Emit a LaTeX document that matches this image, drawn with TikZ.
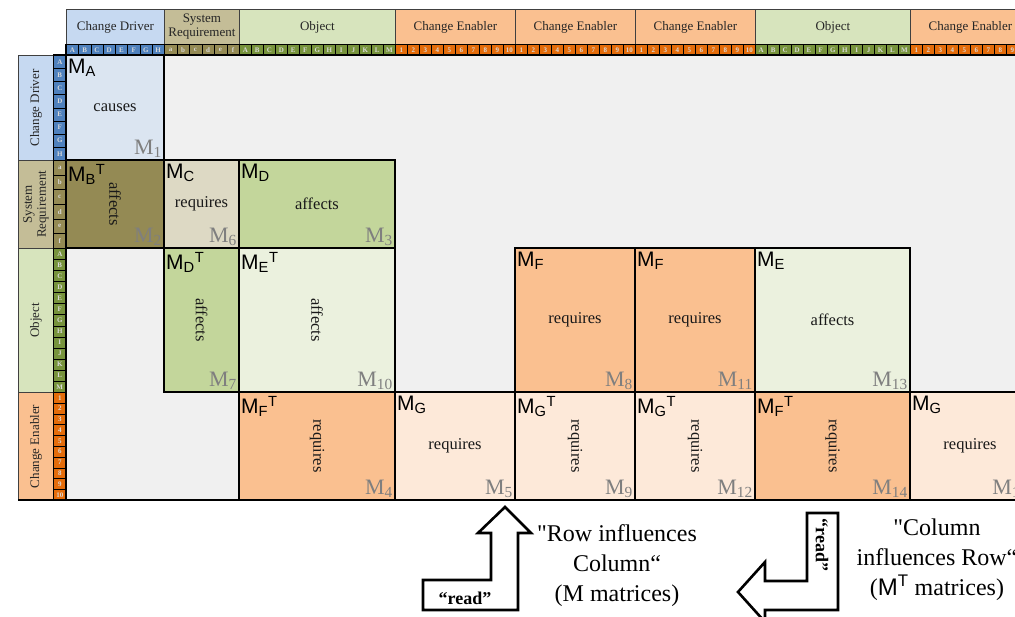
\documentclass[tikz,border=0pt]{standalone}
\usepackage{fontspec}
\setmainfont{Liberation Serif}
\setsansfont{Liberation Sans}
\newfontfamily\plainserif{Liberation Serif}

% domain colours
\definecolor{headcd}{HTML}{C6D9F1}
\definecolor{darkcd}{HTML}{4F81BD}
\definecolor{cellcd}{HTML}{DBE5F1}
\definecolor{headsr}{HTML}{C4BD97}
\definecolor{darksr}{HTML}{948A54}
\definecolor{cellsr}{HTML}{DDD9C4}
\definecolor{headob}{HTML}{D7E4BD}
\definecolor{darkob}{HTML}{77933C}
\definecolor{midob}{HTML}{C3D69B}
\definecolor{cellob}{HTML}{EBF1DE}
\definecolor{headce}{HTML}{FAC090}
\definecolor{darkce}{HTML}{E46C0A}
\definecolor{cellce}{HTML}{FDE9D9}
\definecolor{matbg}{HTML}{F0F0F0}
\definecolor{numgrey}{HTML}{7F7F7F}
\definecolor{headline}{HTML}{404040}

\newcommand{\Msub}[1]{M\textsubscript{#1}}
\newcommand{\Mtr}[1]{M\textsubscript{#1}\textsuperscript{T}}
\newcommand{\upidx}[1]{\char\numexpr64+#1\relax}
\newcommand{\lowidx}[1]{\char\numexpr96+#1\relax}
\newcommand{\numidx}[1]{#1}

\tikzset{
  cell/.style={draw=black, line width=1.4pt, inner sep=0pt, outer sep=0pt, anchor=north west},
  mname/.style={font=\sffamily\fontsize{21}{23}\selectfont, inner sep=2pt, anchor=north west},
  mverb/.style={font=\fontsize{16.5}{18}\selectfont, text=black!90},
  mnum/.style={font=\fontsize{22}{24}\selectfont, text=numgrey, inner sep=2pt, anchor=south east},
  headbox/.style={draw=headline, line width=0.8pt, inner sep=0pt, anchor=north west,
    align=center, text=black!85, font=\fontsize{13}{14}\selectfont},
  idx/.style={draw=black, line width=0.6pt, inner sep=0pt, anchor=north west,
    text=white!85!black, font=\bfseries\fontsize{7}{7}\selectfont},
  readarrow/.style={draw=black, fill=white, line width=2.6pt, line join=miter},
  readtext/.style={font=\bfseries\fontsize{18}{18}\selectfont},
  note/.style={font=\fontsize{24}{30}\selectfont, align=center}
}

\begin{document}
\begin{tikzpicture}[x=1pt,y=-1pt]
  \useasboundingbox (0,0) rectangle (1015,616);

  % Matrix background
  \fill[matbg] (66,55) rectangle (1015,500);

  % Filled sub-matrices
  \foreach \nm/\xa/\ya/\xb/\yb/\col/\lab/\txt/\rot/\num in {
      m1/66/55/164/160/cellcd/\Msub{A}/causes/0/1,
      m2/66/160/164/248/darksr/\Mtr{B}/affects/-90/2,
      m6/164/160/239/248/cellsr/\Msub{C}/requires/0/6,
      m3/239/160/395/248/midob/\Msub{D}/affects/0/3,
      m7/164/248/239/392/midob/\Mtr{D}/affects/-90/7,
      m10/239/248/395/392/cellob/\Mtr{E}/affects/-90/10,
      m8/515/248/635/392/headce/\Msub{F}/requires/0/8,
      m11/635/248/755/392/headce/\Msub{F}/requires/0/11,
      m13/755/248/910/392/cellob/\Msub{E}/affects/0/13,
      m4/239/392/395/500/headce/\Mtr{F}/requires/-90/4,
      m5/395/392/515/500/cellce/\Msub{G}/requires/0/5,
      m9/515/392/635/500/cellce/\Mtr{G}/requires/-90/9,
      m12/635/392/755/500/cellce/\Mtr{G}/requires/-90/12,
      m14/755/392/910/500/headce/\Mtr{F}/requires/-90/14,
      m15/910/392/1030/500/cellce/\Msub{G}/requires/0/15}{
    \node[cell, fill=\col, minimum width=\xb-\xa, minimum height=\yb-\ya] (\nm) at (\xa,\ya) {};
    \node[mname] (\nm-name) at ([yshift=-2pt]\nm.north west) {\lab};
    \node[mverb, rotate=\rot] (\nm-verb) at (\nm.center) {\txt};
    \node[mnum] (\nm-num) at (\nm.south east) {\Msub{\num}};
  }

  % Column headers with index strip
  \foreach \xa/\xb/\n/\kind/\fmt/\ttl [count=\g] in {
      66/164/8/cd/\upidx/Change Driver,
      164/239/6/sr/\lowidx/{System\\Requirement},
      239/395/13/ob/\upidx/Object,
      395/515/10/ce/\numidx/Change Enabler,
      515/635/10/ce/\numidx/Change Enabler,
      635/755/10/ce/\numidx/Change Enabler,
      755/910/13/ob/\upidx/Object,
      910/1030/10/ce/\numidx/Change Enabler}{
    \node[headbox, fill=head\kind, minimum width=\xb-\xa, minimum height=35] (top\g) at (\xa,9) {\ttl};
    \foreach \i in {1,...,\n}
      \node[idx, fill=dark\kind, minimum width=(\xb-\xa)/\n, minimum height=11]
        (top\g-\i) at ({\xa+(\i-1)*(\xb-\xa)/\n},44) {\fmt{\i}};
  }

  % Row headers with index strip
  \foreach \ya/\yb/\n/\kind/\fmt/\ttl [count=\g] in {
      55/160/8/cd/\upidx/Change Driver,
      160/248/6/sr/\lowidx/{System\\Requirement},
      248/392/13/ob/\upidx/Object,
      392/500/10/ce/\numidx/Change Enabler}{
    \node[headbox, fill=head\kind, minimum width=35, minimum height=\yb-\ya] (side\g) at (18,\ya) {};
    \node[rotate=90, align=center, text=black!85, font=\fontsize{13}{14}\selectfont] (side\g-text) at (side\g.center) {\ttl};
    \foreach \i in {1,...,\n}
      \node[idx, fill=dark\kind, minimum width=13, minimum height=(\yb-\ya)/\n]
        (side\g-\i) at (53,{\ya+(\i-1)*(\yb-\ya)/\n}) {\fmt{\i}};
  }

  % Frame lines
  \draw[line width=1.6pt] (53,55) -- (1015,55);
  \draw[line width=1.6pt] (66,44) -- (66,500);
  \draw[line width=1.6pt] (18,500) -- (1015,500);

  % Reading direction, M matrices
  \draw[readarrow] (423,580) -- (491,580) -- (491,533) -- (478,533) -- (505,507)
    -- (531,533) -- (518,533) -- (518,610) -- (423,610) -- cycle;
  \node[readtext] (readrow) at (465,598) {“read”};
  \node[note] (rownote) at (617,566) {{\plainserif"}Row influences\\Column“\\(M matrices)};

  % Reading direction, transposed matrices
  \draw[readarrow] (807,513) -- (838,513) -- (838,610) -- (765,610) -- (765,622)
    -- (738,592) -- (765,562) -- (765,581) -- (807,581) -- cycle;
  \node[readtext, rotate=-90] (readcol) at (822,545) {“read”};
  \node[note] (colnote) at (937,560) {{\plainserif"}Column\\influences Row“\\({\sffamily M\textsuperscript{T}} matrices)};
\end{tikzpicture}
\end{document}
